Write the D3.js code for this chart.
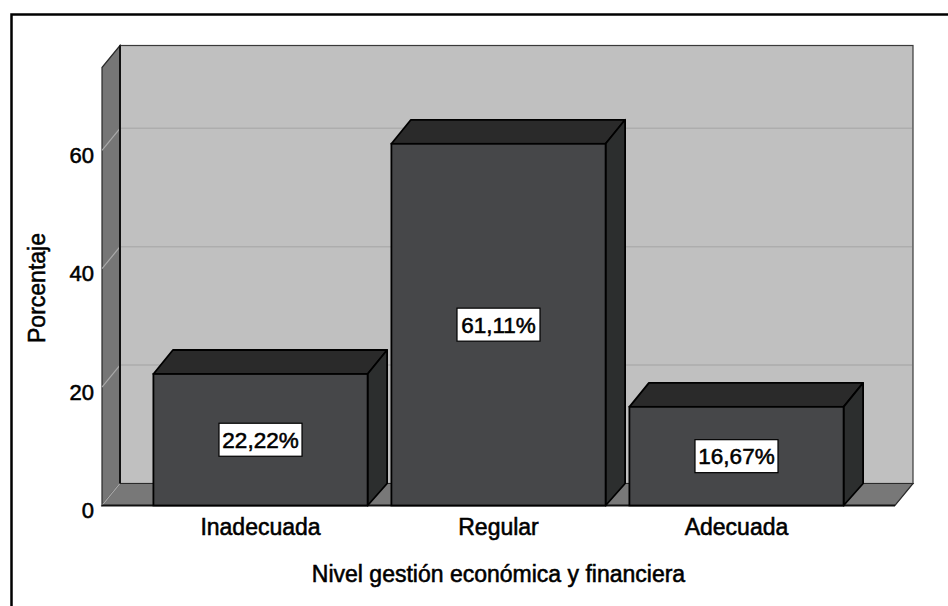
<!DOCTYPE html>
<html>
<head>
<meta charset="utf-8">
<script src="https://cdn.jsdelivr.net/npm/d3@7"></script>
<style>
  html, body { margin: 0; padding: 0; background: #fff; }
  svg { display: block; font-family: "Liberation Sans", Arial, sans-serif; }
  text { stroke: #000; stroke-width: 0.55px; paint-order: stroke; }
</style>
</head>
<body>
<svg id="chart" width="948" height="606"></svg>
<script>
const categories = ["Inadecuada", "Regular", "Adecuada"];
const values = [22.22, 61.11, 16.67];
const valueLabels = ["22,22%", "61,11%", "16,67%"];
const yTicks = [0, 20, 40, 60];
const yMax = 74;
const xTitle = "Nivel gestión económica y financiera";
const yTitle = "Porcentaje";

const svg = d3.select("#chart");

// geometry
const x0 = 102, x1 = 895;
const wallDx = 18, wallDy = -22;
const barDx = 19.5, barDy = -24;

const y = d3.scaleLinear().domain([0, yMax]).range([505.5, 67.5]);
const x = d3.scaleBand().domain(categories).range([x0, x1])
  .paddingInner(0.1).paddingOuter(0.216);

// outer frame
svg.append("rect")
  .attr("x", 11.5).attr("y", 14.5).attr("width", 1000).attr("height", 700)
  .attr("fill", "none").attr("stroke", "#000").attr("stroke-width", 2.5);

// back wall
svg.append("rect")
  .attr("x", x0 + wallDx).attr("y", y(yMax) + wallDy)
  .attr("width", x1 - x0).attr("height", y(0) - y(yMax))
  .attr("fill", "#c0c0c0").attr("stroke", "#3a3a3a").attr("stroke-width", 1.2);

// back wall gridlines
svg.append("g").selectAll("line").data(yTicks.filter(d => d > 0)).join("line")
  .attr("x1", x0 + wallDx + 1).attr("x2", x1 + wallDx - 1)
  .attr("y1", d => y(d) + wallDy).attr("y2", d => y(d) + wallDy)
  .attr("stroke", "#adadad").attr("stroke-width", 1.5);

// left side wall
svg.append("polygon")
  .attr("points", [
    [x0, y(yMax)], [x0 + wallDx, y(yMax) + wallDy],
    [x0 + wallDx, y(0) + wallDy], [x0, y(0)]
  ].map(p => p.join(",")).join(" "))
  .attr("fill", "#767676").attr("stroke", "#2a2a2a").attr("stroke-width", 1.2);

// floor
svg.append("polygon")
  .attr("points", [
    [x0, y(0)], [x0 + wallDx, y(0) + wallDy],
    [x1 + wallDx, y(0) + wallDy], [x1, y(0)]
  ].map(p => p.join(",")).join(" "))
  .attr("fill", "#787878").attr("stroke", "#2a2a2a").attr("stroke-width", 1.2);

// side wall gridlines
svg.append("g").selectAll("line").data(yTicks).join("line")
  .attr("x1", x0).attr("x2", x0 + wallDx)
  .attr("y1", d => y(d)).attr("y2", d => y(d) + wallDy)
  .attr("stroke", "#a9a9a9").attr("stroke-width", 1.2);

// back-left edge
svg.append("line")
  .attr("x1", x0 + wallDx).attr("x2", x0 + wallDx)
  .attr("y1", y(yMax) + wallDy).attr("y2", y(0) + wallDy)
  .attr("stroke", "#111").attr("stroke-width", 2);

// front floor edge (x axis line)
svg.append("line")
  .attr("x1", x0).attr("x2", x1).attr("y1", y(0)).attr("y2", y(0))
  .attr("stroke", "#111").attr("stroke-width", 2);

// bars
const bars = svg.append("g").selectAll("g").data(values).join("g");
bars.append("polygon") // top face
  .attr("points", (d, i) => {
    const bx = x(categories[i]), bw = x.bandwidth(), ty = y(d);
    return [[bx, ty], [bx + barDx, ty + barDy], [bx + bw + barDx, ty + barDy], [bx + bw, ty]]
      .map(p => p.join(",")).join(" ");
  })
  .attr("fill", "#2a2a2a").attr("stroke", "#000").attr("stroke-width", 1.8)
  .attr("stroke-linejoin", "round");
bars.append("polygon") // side face
  .attr("points", (d, i) => {
    const bx = x(categories[i]) + x.bandwidth(), ty = y(d), by = y(0);
    return [[bx, ty], [bx + barDx, ty + barDy], [bx + barDx, by + wallDy], [bx, by]]
      .map(p => p.join(",")).join(" ");
  })
  .attr("fill", "#2c2e2e").attr("stroke", "#000").attr("stroke-width", 1.8)
  .attr("stroke-linejoin", "round");
bars.append("rect") // front face
  .attr("x", (d, i) => x(categories[i]))
  .attr("y", d => y(d))
  .attr("width", x.bandwidth())
  .attr("height", d => y(0) - y(d))
  .attr("fill", "#464749").attr("stroke", "#000").attr("stroke-width", 1.8);

// value labels
const lab = svg.append("g").selectAll("g").data(values).join("g")
  .attr("transform", (d, i) => `translate(${x(categories[i]) + x.bandwidth() / 2},${(y(d) + y(0)) / 2})`);
lab.append("rect")
  .attr("x", -41.5).attr("y", -16.5).attr("width", 83).attr("height", 33)
  .attr("fill", "#fff").attr("stroke", "#000").attr("stroke-width", 1.2);
lab.append("text")
  .attr("text-anchor", "middle").attr("dy", "0.36em")
  .attr("font-size", 22.5).attr("fill", "#000")
  .text((d, i) => valueLabels[i]);

// y axis tick labels
const yAxis = svg.append("g").attr("transform", `translate(${x0},0)`)
  .call(d3.axisLeft(y).tickValues(yTicks).tickSize(0).tickPadding(8));
yAxis.select(".domain").remove();
yAxis.selectAll("text")
  .attr("font-size", 22).attr("font-family", "Liberation Sans, Arial, sans-serif")
  .attr("fill", "#000").attr("dy", "0.32em").attr("transform", "translate(0,5)");

// x axis category labels
const xAxis = svg.append("g").attr("transform", `translate(0,${y(0)})`)
  .call(d3.axisBottom(x).tickSize(0).tickPadding(13));
xAxis.select(".domain").remove();
xAxis.selectAll("text")
  .attr("font-size", 23).attr("font-family", "Liberation Sans, Arial, sans-serif")
  .attr("fill", "#000");

// axis titles
svg.append("text")
  .attr("x", (x0 + x1) / 2).attr("y", 582)
  .attr("text-anchor", "middle").attr("font-size", 23).attr("fill", "#000")
  .text(xTitle);
svg.append("text")
  .attr("transform", `translate(45,288) rotate(-90)`)
  .attr("text-anchor", "middle").attr("font-size", 23).attr("fill", "#000")
  .text(yTitle);
</script>
</body>
</html>
